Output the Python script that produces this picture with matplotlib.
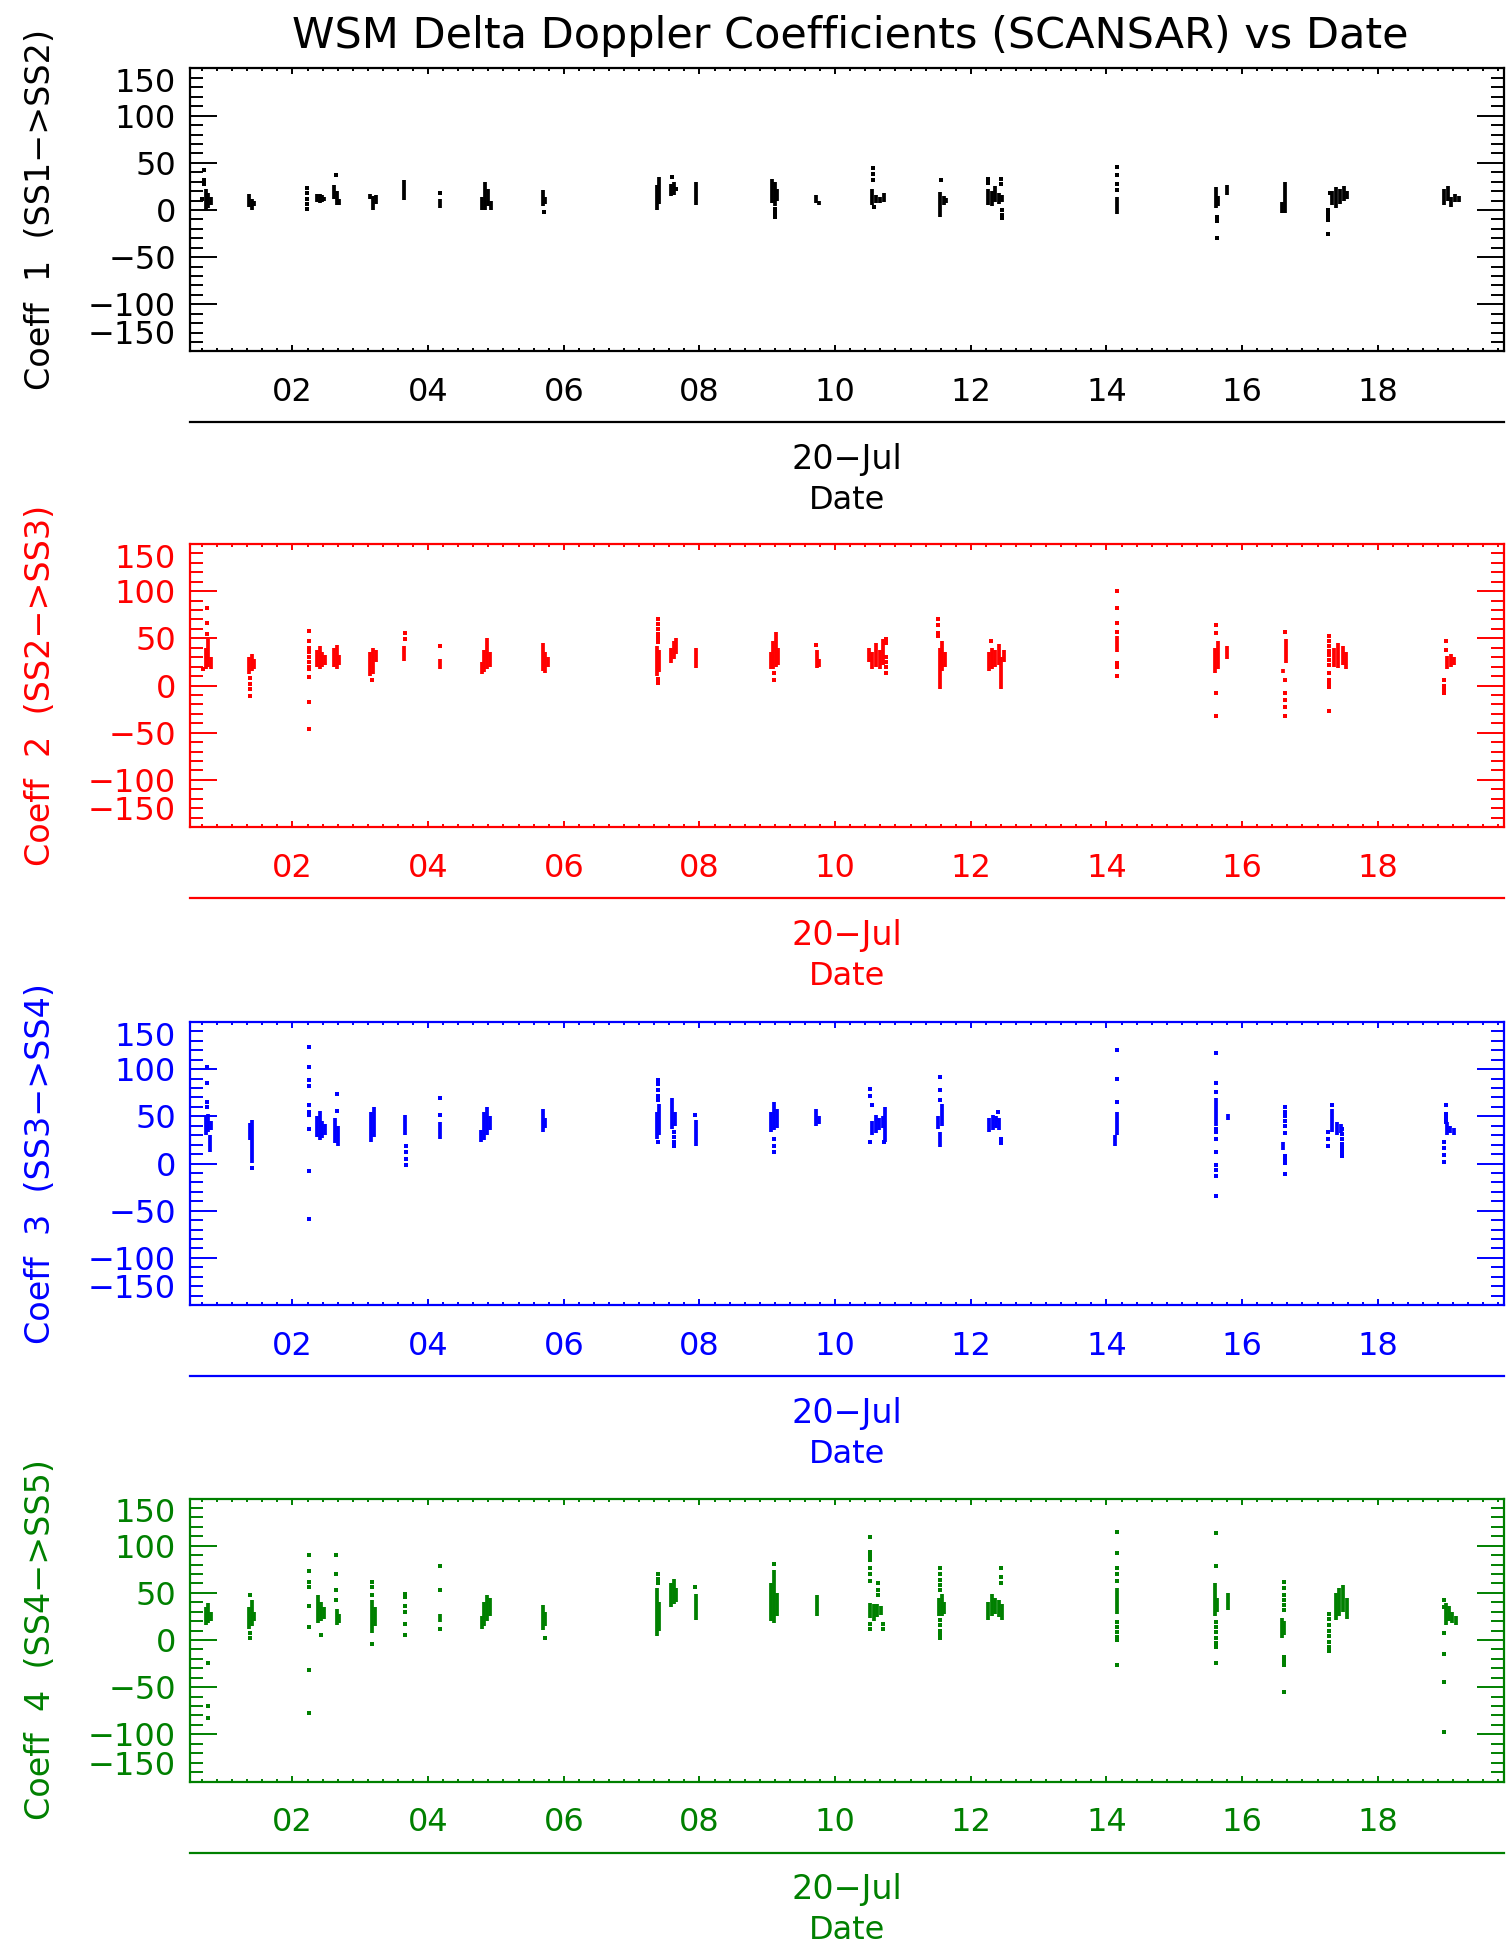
import matplotlib
matplotlib.use("Agg")
import matplotlib.pyplot as plt
from matplotlib.ticker import FixedLocator, MultipleLocator

# hours of 20-Jul ; dense streaks are (hour, low, high), sparse dots are (hour, [values])
coeff1_streaks = [
    (0.72, 0, 22), (0.76, 2, 18), (0.80, 5, 14),
    (1.36, 3, 17), (1.40, 0, 12), (1.43, 4, 10),
    (2.36, 8, 17), (2.40, 7, 17), (2.44, 9, 16), (2.47, 10, 14),
    (2.62, 12, 27), (2.66, 5, 20), (2.69, 5, 12),
    (3.15, 12, 17), (3.19, 0, 15), (3.23, 6, 16),
    (3.65, 11, 32),
    (4.18, 2, 12),
    (4.79, 0, 14), (4.84, 0, 30), (4.88, 4, 22), (4.92, 0, 10),
    (5.70, 4, 21), (5.73, 6, 14),
    (7.37, 0, 26), (7.41, 6, 35),
    (7.58, 15, 28), (7.63, 16, 30),
    (7.95, 5, 30),
    (9.07, 7, 33), (9.11, 4, 30), (9.15, 10, 22),
    (9.72, 7, 16), (9.76, 5, 10),
    (10.55, 5, 22), (10.60, 7, 16), (10.66, 7, 14), (10.72, 8, 18),
    (11.55, -7, 19), (11.60, 5, 15), (11.64, 7, 13),
    (12.26, 5, 22), (12.31, 4, 20), (12.36, 8, 25), (12.42, 6, 18), (12.46, 8, 16),
    (14.15, -4, 14),
    (15.61, 2, 24), (15.64, 4, 15), (15.78, 16, 26),
    (16.63, -3, 30), (16.59, -3, 8),
    (17.32, 5, 20), (17.38, 2, 24), (17.44, 6, 22), (17.50, 10, 25), (17.55, 12, 20),
    (18.98, 5, 22), (19.03, 10, 25), (19.08, 3, 14), (19.14, 8, 17), (19.20, 8, 15),
]
coeff1_dots = [
    (0.70, [42, 32, 28]), (0.66, [12]),
    (2.22, [23, 18, 12, 6, 1]),
    (2.64, [37]),
    (4.17, [18]),
    (5.71, [-2]),
    (7.60, [35]), (7.66, [22]),
    (9.12, [1, -3, -7]),
    (10.56, [44, 38, 32]), (10.58, [3]),
    (11.56, [32]),
    (12.26, [33, 29]), (12.44, [33, 28]), (12.46, [0, -5, -9]),
    (14.15, [46, 37, 28, 21]),
    (15.63, [-7, -12, -30]),
    (17.27, [0, -4, -8, -11, -25]), (17.30, [18]),
]

coeff2_streaks = [
    (0.72, 17, 40), (0.76, 20, 49), (0.80, 18, 30),
    (1.36, 12, 30), (1.40, 15, 33), (1.43, 18, 28),
    (2.36, 20, 38), (2.40, 17, 42), (2.44, 20, 35), (2.48, 22, 32),
    (2.62, 20, 40), (2.66, 17, 43), (2.69, 22, 32),
    (3.15, 10, 35), (3.19, 12, 40), (3.23, 25, 38),
    (3.65, 26, 42),
    (4.17, 17, 28),
    (4.79, 12, 25), (4.83, 14, 38), (4.87, 18, 50), (4.91, 20, 35),
    (5.70, 15, 45), (5.73, 13, 35), (5.76, 20, 30),
    (7.37, 10, 42), (7.41, 14, 38),
    (7.58, 24, 40), (7.62, 28, 47), (7.65, 33, 50),
    (7.95, 19, 40),
    (9.05, 18, 35), (9.09, 17, 47), (9.13, 20, 57), (9.16, 22, 40),
    (9.73, 19, 38), (9.76, 20, 28),
    (10.50, 25, 40), (10.55, 17, 35), (10.60, 20, 45), (10.66, 17, 38), (10.70, 22, 49),
    (11.54, -4, 40), (11.58, 15, 47), (11.62, 20, 35),
    (12.27, 15, 35), (12.31, 17, 40), (12.36, 20, 38), (12.41, 22, 44), (12.45, -4, 30), (12.49, 25, 38),
    (14.16, 36, 52),
    (15.60, 13, 40), (15.64, 18, 47), (15.78, 28, 42),
    (16.65, 24, 49), (16.60, 13, 18),
    (17.36, 20, 40), (17.42, 19, 45), (17.48, 22, 42), (17.53, 18, 35),
    (19.02, 17, 31), (19.08, 20, 33), (19.13, 22, 30),
]
coeff2_dots = [
    (0.74, [82, 66, 55]), (0.68, [18]),
    (1.38, [8, 2, -4, -11]),
    (2.24, [58, 47, 40, 35, 30, 25, 20, 17, 9, -18, -46]),
    (3.17, [6]),
    (3.66, [56, 49]),
    (4.18, [42]),
    (7.39, [70, 65, 60, 55, 50, 46, 7, 3]),
    (9.10, [13, 6]),
    (9.72, [43]),
    (10.75, [49, 45, 30, 25, 20, 13]),
    (11.52, [70, 64, 56, 52]),
    (12.30, [47]),
    (14.15, [100, 82, 66, 57, 24, 20, 10]),
    (15.62, [64, 56, -8, -32]),
    (16.63, [57, 6, -8, -15, -23, -32]),
    (17.28, [52, 47, 42, 37, 32, 27, 22, 13, 6, 2, -2, -27]),
    (19.00, [47, 38]), (18.98, [6, 0, -4, -8]),
]

coeff3_streaks = [
    (0.72, 30, 50), (0.76, 33, 53), (0.80, 35, 45), (0.78, 12, 30),
    (1.37, 25, 43), (1.41, 1, 46),
    (2.36, 28, 50), (2.40, 25, 56), (2.44, 27, 45), (2.48, 30, 42),
    (2.63, 22, 48), (2.67, 19, 40),
    (3.16, 23, 55), (3.20, 28, 60),
    (3.66, 30, 51),
    (4.18, 26, 44),
    (4.78, 23, 35), (4.83, 25, 55), (4.87, 30, 60), (4.91, 35, 50),
    (5.70, 33, 58), (5.73, 38, 48),
    (7.37, 26, 55), (7.41, 30, 63),
    (7.60, 37, 69), (7.64, 40, 55),
    (7.95, 19, 46),
    (9.05, 33, 55), (9.10, 35, 65), (9.14, 38, 58),
    (9.72, 40, 58), (9.76, 42, 50),
    (10.55, 30, 45), (10.60, 32, 51), (10.65, 35, 48), (10.70, 38, 50), (10.74, 23, 60),
    (11.52, 37, 50), (11.57, 40, 63), (11.55, 17, 33),
    (12.27, 33, 48), (12.32, 35, 51), (12.37, 38, 50), (12.42, 36, 48),
    (14.15, 30, 55), (14.13, 19, 30),
    (15.62, 40, 69), (15.79, 46, 53),
    (16.60, 14, 23),
    (17.33, 33, 58), (17.40, 30, 44), (17.45, 32, 42),
    (19.02, 30, 44), (19.07, 32, 40), (19.12, 30, 38),
]
coeff3_dots = [
    (0.74, [102, 85, 65, 60]),
    (1.40, [-5]),
    (2.24, [123, 102, 88, 82, 62, 55, 51, 37, -8, -59]),
    (2.65, [74, 56]),
    (3.67, [19, 12, 5, -2]),
    (4.18, [69, 51]),
    (7.39, [89, 84, 78, 72, 67, 23]),
    (7.62, [33, 28, 23, 19]),
    (7.94, [51]),
    (9.10, [26, 19, 12]),
    (10.52, [79, 72, 23]), (10.55, [62]), (10.72, [23]),
    (11.55, [92, 78, 67]),
    (12.40, [55, 46]), (12.45, [26, 22]),
    (14.15, [120, 90, 65]),
    (15.62, [117, 85, 76, 37, 33, 26, 12, -2, -7, -13, -34]),
    (16.63, [60, 55, 50, 45, 40, 32, 8, 4, 1, -11]),
    (17.33, [62]), (17.47, [37, 31, 26, 21, 16, 12, 8]), (17.27, [33, 26, 19]),
    (19.00, [62, 53, 48, 44]), (18.98, [23, 16, 9, 2]),
]

coeff4_streaks = [
    (0.72, 16, 35), (0.76, 18, 39), (0.80, 20, 30),
    (1.36, 12, 35), (1.40, 15, 42), (1.43, 20, 30),
    (2.38, 18, 48), (2.42, 20, 40), (2.46, 22, 35),
    (2.66, 16, 33), (2.69, 18, 28),
    (3.17, 7, 42), (3.21, 15, 35),
    (4.18, 19, 28),
    (4.79, 12, 25), (4.83, 15, 40), (4.87, 20, 48), (4.91, 25, 45),
    (5.70, 11, 37), (5.73, 15, 30),
    (7.38, 4, 55), (7.41, 10, 40),
    (7.58, 35, 60), (7.62, 38, 65), (7.65, 40, 55),
    (7.95, 21, 49),
    (9.06, 20, 60), (9.10, 18, 74), (9.14, 25, 50),
    (9.73, 25, 48),
    (10.52, 23, 39), (10.57, 20, 38), (10.62, 24, 38), (10.67, 26, 36),
    (11.53, 25, 45), (11.57, 25, 49), (11.61, 28, 40),
    (12.26, 21, 40), (12.31, 25, 49), (12.36, 28, 45), (12.41, 24, 42), (12.46, 21, 38),
    (14.15, 28, 55),
    (15.60, 25, 60), (15.63, 30, 45), (15.79, 32, 50),
    (16.59, 2, 23), (16.62, 5, 20),
    (17.38, 21, 50), (17.43, 25, 55), (17.49, 30, 58), (17.54, 22, 45),
    (19.00, 16, 39), (19.05, 20, 36), (19.10, 18, 30), (19.15, 16, 25),
]
coeff4_dots = [
    (0.76, [-24, -70, -83]),
    (1.38, [48, 7, 2]),
    (2.24, [90, 73, 62, 56, 36, 14, -32, -77]),
    (2.42, [5]),
    (2.64, [90, 70, 53, 42]),
    (3.18, [62, 56, 48, -4]),
    (3.66, [49, 46, 36, 30, 17, 5]),
    (4.18, [78, 53, 12]),
    (5.72, [2]),
    (7.39, [70, 65, 60]),
    (7.94, [56]),
    (9.10, [81]),
    (10.52, [109, 93, 89, 85, 76, 70, 63, 17, 12]), (10.63, [60, 53, 48]), (10.70, [17, 12]),
    (11.55, [76, 70, 64, 58, 53, 21, 16, 10, 5, 2]),
    (12.45, [76, 67, 60]),
    (14.15, [115, 92, 76, 70, 63, 19, 14, 8, 3, 0, -27]),
    (15.62, [113, 78, 19, 14, 8, 2, -3, -7, -24]),
    (16.61, [62, 55, 48, 42, 37, 32, -18, -22, -27, -55]),
    (17.28, [28, 22, 16, 10, 4, -2, -7, -12]),
    (18.98, [42, 35, 7, -15, -44, -97]),
]

ylabels = ["Coeff  1  (SS1\u2212>SS2)", "Coeff  2  (SS2\u2212>SS3)",
           "Coeff  3  (SS3\u2212>SS4)", "Coeff  4  (SS4\u2212>SS5)"]
colors = ["black", "#ff0000", "#0000ff", "#008000"]
hour_ticks = [2, 4, 6, 8, 10, 12, 14, 16, 18]
hour_labels = ["%02d" % h for h in hour_ticks]
y_ticks = [-150, -100, -50, 0, 50, 100, 150]
y_labels = ["\u2212150", "\u2212100", "\u221250", "0", "50", "100", "150"]
day_label = "20\u2212Jul"
title = "WSM Delta Doppler Coefficients (SCANSAR) vs Date"

W, H = 1506, 1951
fig = plt.figure(figsize=(W / 100, H / 100), dpi=100)
fig.text(850 / W, 1 - 36 / H, title, ha="center", va="center", fontsize=31)

panel_tops = [68.5, 544, 1022, 1498.5]
ax_h = 283.0
left, right = 190, 1504
fs = 23

panels = [(coeff1_streaks, coeff1_dots), (coeff2_streaks, coeff2_dots),
          (coeff3_streaks, coeff3_dots), (coeff4_streaks, coeff4_dots)]

for i, (streaks, dots) in enumerate(panels):
    c = colors[i]
    ax = fig.add_axes([left / W, 1 - (panel_tops[i] + ax_h) / H, (right - left) / W, ax_h / H])
    ts = [s[0] for s in streaks]
    ax.vlines(ts, [s[1] for s in streaks], [s[2] for s in streaks], colors=c, lw=2.7)
    dx, dy = [], []
    for t, vals in dots:
        dx += [t] * len(vals)
        dy += vals
    ax.plot(dx, dy, "s", ms=2.3, mew=0, color=c)

    ax.set_xlim(0.49, 19.86)
    ax.set_ylim(-150, 150)
    ax.xaxis.set_major_locator(FixedLocator(hour_ticks))
    ax.set_xticklabels(hour_labels)
    ax.xaxis.set_minor_locator(MultipleLocator(2 / 9))
    ax.yaxis.set_major_locator(FixedLocator(y_ticks))
    ax.set_yticklabels(y_labels)
    ax.yaxis.set_minor_locator(MultipleLocator(10))
    ax.tick_params(axis="x", which="major", direction="in", top=True, length=4.2,
                   width=1.4, labelsize=fs, pad=18.5, colors=c)
    ax.tick_params(axis="x", which="minor", direction="in", top=True, length=2.1,
                   width=1.4, colors=c)
    ax.tick_params(axis="y", which="major", direction="in", right=True, length=19.5,
                   width=1.4, labelsize=fs, pad=10, colors=c)
    ax.tick_params(axis="y", which="minor", direction="in", right=True, length=9.5,
                   width=1.4, colors=c)
    yl = ax.get_yticklabels()
    yl[-1].set_va("top")
    yl[0].set_va("bottom")
    for sp in ax.spines.values():
        sp.set_color(c)
        sp.set_linewidth(1.6)
    ax.set_ylabel(ylabels[i], fontsize=24, color=c, va="center")
    ax.yaxis.set_label_coords(-0.1135, 0.5)

    # second level of the date axis
    ly = -71 / ax_h
    ax.plot([0, 1], [ly, ly], transform=ax.transAxes, clip_on=False, color=c, lw=1.6)
    ax.text(0.5, -108 / ax_h, day_label, transform=ax.transAxes, ha="center",
            va="center", fontsize=fs + 1, color=c)
    ax.text(0.5, -149 / ax_h, "Date", transform=ax.transAxes, ha="center",
            va="center", fontsize=fs, color=c)

fig.savefig("out.png", dpi=100)
